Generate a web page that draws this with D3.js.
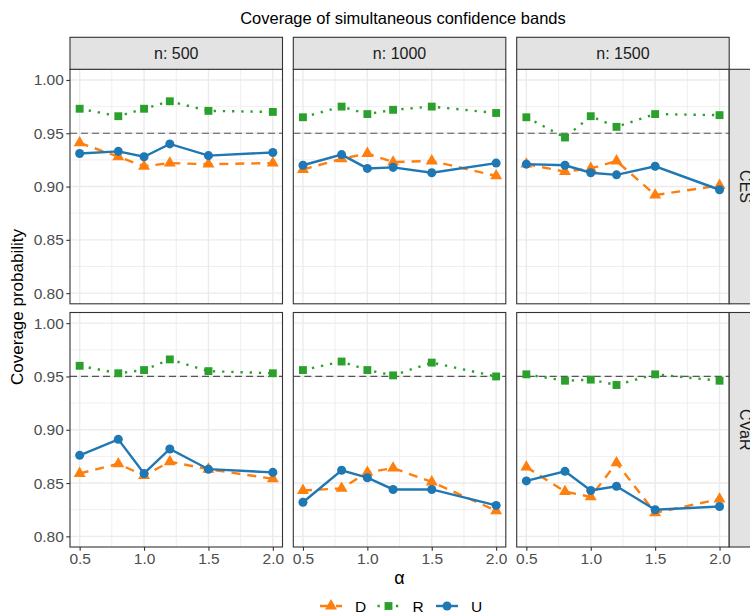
<!DOCTYPE html>
<html>
<head>
<meta charset="utf-8">
<script src="https://cdn.jsdelivr.net/npm/d3@7"></script>
<style>
  body { margin: 0; background: #fff; }
  text { font-family: "Liberation Sans", Arial, sans-serif; }
</style>
</head>
<body>
<script>
// Data
const alphas = [0.5, 0.8, 1.0, 1.2, 1.5, 2.0];
const sampleSizes = ["500", "1000", "1500"];
const measures = ["CES", "CVaR"];
const methods = ["D", "R", "U"];
const xTicks = [0.5, 1.0, 1.5, 2.0];
const yTicks = [0.80, 0.85, 0.90, 0.95, 1.00];

// one row per sample size (500, 1000, 1500), one value per alpha
const D_CES = [[0.941, 0.928, 0.919, 0.922, 0.921, 0.922],
               [0.916, 0.926, 0.931, 0.923, 0.924, 0.910],
               [0.921, 0.914, 0.917, 0.924, 0.892, 0.901]];
const R_CES = [[0.973, 0.966, 0.973, 0.980, 0.971, 0.970],
               [0.965, 0.975, 0.968, 0.972, 0.975, 0.969],
               [0.965, 0.946, 0.966, 0.956, 0.968, 0.967]];
const U_CES = [[0.931, 0.933, 0.928, 0.940, 0.929, 0.932],
               [0.920, 0.930, 0.917, 0.918, 0.913, 0.922],
               [0.921, 0.920, 0.913, 0.911, 0.919, 0.897]];
const D_CVaR = [[0.859, 0.868, 0.857, 0.870, 0.863, 0.854],
                [0.843, 0.845, 0.860, 0.864, 0.851, 0.824],
                [0.865, 0.842, 0.837, 0.869, 0.822, 0.835]];
const R_CVaR = [[0.960, 0.953, 0.956, 0.966, 0.955, 0.953],
                [0.956, 0.964, 0.956, 0.951, 0.963, 0.950],
                [0.952, 0.946, 0.947, 0.942, 0.952, 0.946]];
const U_CVaR = [[0.876, 0.891, 0.859, 0.882, 0.863, 0.860],
                [0.832, 0.862, 0.855, 0.844, 0.844, 0.829],
                [0.852, 0.861, 0.843, 0.847, 0.825, 0.828]];
const nominal = 0.95;

const series = {
  CES: { D: D_CES, R: R_CES, U: U_CES },
  CVaR: { D: D_CVaR, R: R_CVaR, U: U_CVaR }
};

// Styles
const style = {
  D: { color: "#ff7f0e", dash: "9,7", symbol: d3.symbolTriangle, size: 62 },
  R: { color: "#2ca02c", dash: "2.3,6.9", symbol: d3.symbolSquare, size: 62 },
  U: { color: "#1f77b4", dash: null, symbol: d3.symbolCircle, size: 64 }
};

// Dimensions
const width = 750;
const height = 614;
const panelW = 212.5;
const panelH = 234.5;
const colX = [70, 293.3, 516.7];
const rowY = [69.3, 312.5];
const stripH = 32;
const tickFont = "15.5px";

const svg = d3.select("body")
  .append("svg")
  .attr("width", width)
  .attr("height", height);

// Scales
const x = d3.scaleLinear().domain([0.425, 2.075]).range([0, panelW]);
const y = d3.scaleLinear().domain([0.79, 1.01]).range([panelH, 0]);

const line = d3.line()
  .x(d => x(d.a))
  .y(d => y(d.v));

measures.forEach((m, r) => {
  sampleSizes.forEach((n, c) => {
    const g = svg.append("g")
      .attr("transform", `translate(${colX[c]},${rowY[r]})`);

    g.append("rect")
      .attr("width", panelW)
      .attr("height", panelH)
      .attr("fill", "#fff");

    // minor grid
    const xMinor = [0.75, 1.25, 1.75];
    const yMinor = [0.825, 0.875, 0.925, 0.975];
    g.selectAll(".xminor").data(xMinor).enter().append("line")
      .attr("x1", d => x(d)).attr("x2", d => x(d))
      .attr("y1", 0).attr("y2", panelH)
      .attr("stroke", "#ebebeb").attr("stroke-width", 0.8);
    g.selectAll(".yminor").data(yMinor).enter().append("line")
      .attr("y1", d => y(d)).attr("y2", d => y(d))
      .attr("x1", 0).attr("x2", panelW)
      .attr("stroke", "#ebebeb").attr("stroke-width", 0.8);

    // major grid
    g.selectAll(".xmajor").data(xTicks).enter().append("line")
      .attr("x1", d => x(d)).attr("x2", d => x(d))
      .attr("y1", 0).attr("y2", panelH)
      .attr("stroke", "#ebebeb").attr("stroke-width", 1.4);
    g.selectAll(".ymajor").data(yTicks).enter().append("line")
      .attr("y1", d => y(d)).attr("y2", d => y(d))
      .attr("x1", 0).attr("x2", panelW)
      .attr("stroke", "#ebebeb").attr("stroke-width", 1.4);

    // reference line
    g.append("line")
      .attr("x1", 0).attr("x2", panelW)
      .attr("y1", y(nominal)).attr("y2", y(nominal))
      .attr("stroke", "#555")
      .attr("stroke-width", 1.2)
      .attr("stroke-dasharray", "7,4");

    methods.forEach(k => {
      const pts = alphas.map((a, i) => ({ a: a, v: series[m][k][c][i] }));
      const s = style[k];
      g.append("path")
        .datum(pts)
        .attr("d", line)
        .attr("fill", "none")
        .attr("stroke", s.color)
        .attr("stroke-width", 2.4)
        .attr("stroke-dasharray", s.dash);
      g.selectAll(".pt-" + k).data(pts).enter().append("path")
        .attr("transform", d => `translate(${x(d.a)},${y(d.v)})`)
        .attr("d", d3.symbol().type(s.symbol).size(s.size))
        .attr("fill", s.color);
    });

    // border
    g.append("rect")
      .attr("width", panelW)
      .attr("height", panelH)
      .attr("fill", "none")
      .attr("stroke", "#333")
      .attr("stroke-width", 1.1);

    // y axis on first column
    if (c === 0) {
      const yAxis = d3.axisLeft(y).tickValues(yTicks).tickFormat(d3.format(".2f")).tickSize(3.7).tickPadding(2.5);
      const ga = g.append("g").call(yAxis);
      ga.select(".domain").remove();
      ga.selectAll("line").attr("stroke", "#333").attr("stroke-width", 1.1);
      ga.selectAll("text").attr("fill", "#4d4d4d").style("font-size", tickFont)
        .attr("font-family", "Liberation Sans, Arial, sans-serif");
    }
    // x axis on bottom row
    if (r === measures.length - 1) {
      const xAxis = d3.axisBottom(x).tickValues(xTicks).tickFormat(d3.format(".1f")).tickSize(3.7).tickPadding(2.5);
      const ga = g.append("g").attr("transform", `translate(0,${panelH})`).call(xAxis);
      ga.select(".domain").remove();
      ga.selectAll("line").attr("stroke", "#333").attr("stroke-width", 1.1);
      ga.selectAll("text").attr("fill", "#4d4d4d").style("font-size", tickFont)
        .attr("font-family", "Liberation Sans, Arial, sans-serif");
    }

    // top strips
    if (r === 0) {
      svg.append("rect")
        .attr("x", colX[c]).attr("y", rowY[0] - stripH)
        .attr("width", panelW).attr("height", stripH)
        .attr("fill", "#e3e3e3").attr("stroke", "#333").attr("stroke-width", 1.1);
      svg.append("text")
        .attr("x", colX[c] + panelW / 2)
        .attr("y", rowY[0] - stripH / 2 + 5.5)
        .attr("text-anchor", "middle")
        .attr("fill", "#1a1a1a")
        .style("font-size", "16px")
        .text("n: " + n);
    }
  });

  // right strips
  const sx = colX[2] + panelW;
  svg.append("rect")
    .attr("x", sx).attr("y", rowY[r])
    .attr("width", stripH).attr("height", panelH)
    .attr("fill", "#e3e3e3").attr("stroke", "#333").attr("stroke-width", 1.1);
  svg.append("text")
    .attr("transform", `translate(${sx + stripH / 2 - 5.5},${rowY[r] + panelH / 2}) rotate(90)`)
    .attr("text-anchor", "middle")
    .attr("fill", "#1a1a1a")
    .style("font-size", "16px")
    .text(m);
});

// Title and axis labels
svg.append("text")
  .attr("x", 403)
  .attr("y", 24)
  .attr("text-anchor", "middle")
  .attr("fill", "#000")
  .style("font-size", "16.5px")
  .text("Coverage of simultaneous confidence bands");

svg.append("text")
  .attr("transform", "rotate(-90)")
  .attr("x", -307)
  .attr("y", 23)
  .attr("text-anchor", "middle")
  .attr("fill", "#000")
  .style("font-size", "17px")
  .text("Coverage probability");

svg.append("text")
  .attr("x", 399.5)
  .attr("y", 584)
  .attr("text-anchor", "middle")
  .attr("fill", "#000")
  .style("font-size", "18px")
  .text("α");

// Legend
const legendX = [320, 377.5, 436];
const legendY = 606;
methods.forEach((k, i) => {
  const s = style[k];
  const lg = svg.append("g").attr("transform", `translate(${legendX[i]},${legendY})`);
  lg.append("line")
    .attr("x1", 0).attr("x2", 22)
    .attr("stroke", s.color)
    .attr("stroke-width", 2.4)
    .attr("stroke-dasharray", s.dash);
  lg.append("path")
    .attr("transform", "translate(11,0)")
    .attr("d", d3.symbol().type(s.symbol).size(s.size))
    .attr("fill", s.color);
  lg.append("text")
    .attr("x", 35)
    .attr("y", 5.5)
    .attr("fill", "#000")
    .style("font-size", "15.5px")
    .text(k);
});
</script>
</body>
</html>
